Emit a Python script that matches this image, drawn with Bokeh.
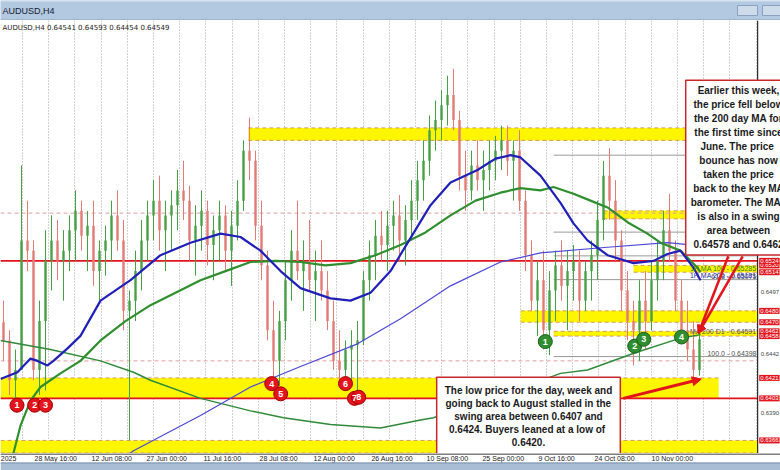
import numpy as np
from bokeh.plotting import figure
from bokeh.layouts import column
from bokeh.models import FixedTicker, Label, Arrow, NormalHead, ColumnDataSource, Span, Grid
from bokeh.embed import file_html
from bokeh.resources import INLINE
from bokeh.core.properties import value

# ---------------- data ----------------
symbol = "AUDUSD,H4"
ohlc_header = ["0.64541", "0.64593", "0.64454", "0.64549"]

date_labels = ["2025", "28 May 16:00", "12 Jun 08:00", "27 Jun 00:00", "11 Jul 16:00",
               "28 Jul 08:00", "12 Aug 00:00", "26 Aug 16:00", "10 Sep 08:00",
               "25 Sep 00:00", "9 Oct 16:00", "24 Oct 08:00", "10 Nov 00:00"]
date_bars = [-0.45, 5.17, 14.67, 23.83, 33.33, 42.67, 51.67, 61.33, 70.5,
             79.83, 89.17, 98.5, 108.0]

first_open = 0.6470
bar_high = [0.6489, 0.6463, 0.6446, 0.6608, 0.6577, 0.6542, 0.6489, 0.6551, 0.6564, 0.6560,
            0.6551, 0.6564, 0.6586, 0.6577, 0.6568, 0.6577, 0.6542, 0.6555, 0.6577, 0.6586,
            0.6560, 0.6498, 0.6533, 0.6560, 0.6577, 0.6595, 0.6599, 0.6577, 0.6586, 0.6604,
            0.6612, 0.6590, 0.6573, 0.6586, 0.6577, 0.6564, 0.6577, 0.6573, 0.6568, 0.6595,
            0.6630, 0.6650, 0.6621, 0.6577, 0.6533, 0.6489, 0.6480, 0.6524, 0.6551, 0.6577,
            0.6542, 0.6560, 0.6533, 0.6542, 0.6515, 0.6489, 0.6463, 0.6454, 0.6463, 0.6471,
            0.6515, 0.6542, 0.6560, 0.6568, 0.6568, 0.6577, 0.6582, 0.6573, 0.6595, 0.6612,
            0.6630, 0.6652, 0.6665, 0.6674, 0.6687, 0.6693, 0.6656, 0.6621, 0.6621, 0.6630,
            0.6621, 0.6630, 0.6634, 0.6643, 0.6643, 0.6630, 0.6639, 0.6586, 0.6542, 0.6524,
            0.6533, 0.6515, 0.6533, 0.6542, 0.6533, 0.6538, 0.6533, 0.6524, 0.6542, 0.6577,
            0.6612, 0.6623, 0.6595, 0.6551, 0.6515, 0.6489, 0.6507, 0.6515, 0.6524, 0.6542,
            0.6568, 0.6583, 0.6542, 0.6507, 0.6489, 0.6471, 0.6463]
bar_low = [0.6436, 0.6406, 0.6401, 0.6428, 0.6515, 0.6419, 0.6406, 0.6410, 0.6498, 0.6507,
           0.6489, 0.6515, 0.6524, 0.6533, 0.6515, 0.6502, 0.6489, 0.6511, 0.6524, 0.6533,
           0.6463, 0.6366, 0.6471, 0.6498, 0.6524, 0.6542, 0.6533, 0.6515, 0.6533, 0.6551,
           0.6560, 0.6524, 0.6511, 0.6533, 0.6520, 0.6507, 0.6524, 0.6515, 0.6502, 0.6542,
           0.6568, 0.6595, 0.6542, 0.6507, 0.6454, 0.6419, 0.6414, 0.6454, 0.6489, 0.6507,
           0.6480, 0.6498, 0.6471, 0.6489, 0.6463, 0.6428, 0.6414, 0.6410, 0.6414, 0.6410,
           0.6450, 0.6489, 0.6507, 0.6524, 0.6515, 0.6533, 0.6524, 0.6520, 0.6542, 0.6560,
           0.6577, 0.6599, 0.6621, 0.6630, 0.6643, 0.6639, 0.6586, 0.6568, 0.6577, 0.6586,
           0.6568, 0.6586, 0.6595, 0.6604, 0.6599, 0.6577, 0.6568, 0.6515, 0.6480, 0.6458,
           0.6446, 0.6441, 0.6471, 0.6489, 0.6463, 0.6489, 0.6471, 0.6480, 0.6489, 0.6507,
           0.6542, 0.6560, 0.6524, 0.6480, 0.6454, 0.6432, 0.6436, 0.6446, 0.6463, 0.6489,
           0.6507, 0.6524, 0.6480, 0.6454, 0.6436, 0.6420, 0.6423]
bar_close = [0.6454, 0.6419, 0.6428, 0.6542, 0.6533, 0.6428, 0.6471, 0.6524, 0.6542, 0.6524,
             0.6533, 0.6551, 0.6568, 0.6546, 0.6555, 0.6515, 0.6533, 0.6542, 0.6564, 0.6542,
             0.6480, 0.6489, 0.6515, 0.6542, 0.6564, 0.6577, 0.6551, 0.6564, 0.6573, 0.6586,
             0.6577, 0.6542, 0.6555, 0.6568, 0.6538, 0.6551, 0.6564, 0.6533, 0.6555, 0.6577,
             0.6621, 0.6612, 0.6555, 0.6520, 0.6463, 0.6436, 0.6471, 0.6507, 0.6533, 0.6515,
             0.6524, 0.6507, 0.6515, 0.6498, 0.6471, 0.6436, 0.6428, 0.6446, 0.6450, 0.6454,
             0.6507, 0.6529, 0.6546, 0.6538, 0.6555, 0.6564, 0.6542, 0.6560, 0.6577, 0.6595,
             0.6612, 0.6639, 0.6648, 0.6661, 0.6670, 0.6648, 0.6599, 0.6586, 0.6608, 0.6595,
             0.6604, 0.6612, 0.6621, 0.6630, 0.6612, 0.6621, 0.6577, 0.6529, 0.6489, 0.6507,
             0.6463, 0.6498, 0.6520, 0.6502, 0.6515, 0.6524, 0.6489, 0.6515, 0.6529, 0.6560,
             0.6599, 0.6577, 0.6542, 0.6498, 0.6471, 0.6463, 0.6489, 0.6471, 0.6507, 0.6524,
             0.6551, 0.6533, 0.6489, 0.6463, 0.6446, 0.6428, 0.6455]

# moving averages (bar index, price)
ma_h4_100_bar = [-0.5, 2.33, 4.5, 5.67, 7.33, 8.33, 10.67, 12.83, 16.17, 21.17, 26.17, 31.17,
                 36.17, 39.5, 42.83, 46.17, 49.5, 54.5, 57.83, 61.17, 64.5, 67.83, 71.17,
                 74.5, 79.0, 82.0, 84.5, 86.17, 89.5, 92.83, 95.0, 97.33, 100.67, 105.0,
                 108.33, 110.67, 112.83, 115.0, 116.17]
ma_h4_100_val = [0.6420, 0.6426, 0.6438, 0.6436, 0.6432, 0.6436, 0.6447, 0.6458, 0.6489,
                 0.6507, 0.6529, 0.6540, 0.6548, 0.6545, 0.6533, 0.6515, 0.6500, 0.6491,
                 0.6489, 0.6496, 0.6515, 0.6544, 0.6573, 0.6593, 0.6604, 0.6614, 0.6617,
                 0.6615, 0.6599, 0.6575, 0.6557, 0.6542, 0.6529, 0.6522, 0.6524, 0.6530,
                 0.6533, 0.6518, 0.6507]
ma_h4_200_bar = [0.33, 1.67, 2.83, 4.5, 6.17, 9.5, 12.83, 16.17, 20.33, 24.5, 28.67, 32.83,
                 37.0, 41.17, 45.33, 49.5, 53.67, 57.83, 62.0, 66.17, 70.33, 74.5, 78.67,
                 82.83, 86.17, 89.5, 91.67, 95.0, 97.83, 100.67, 104.0, 107.33, 109.5,
                 112.83, 115.67, 116.17]
ma_h4_200_val = [0.6331, 0.6355, 0.6379, 0.6401, 0.6413, 0.6425, 0.6436, 0.6454, 0.6471,
                 0.6485, 0.6496, 0.6507, 0.6515, 0.6523, 0.6524, 0.6523, 0.6520, 0.6522,
                 0.6529, 0.6538, 0.6549, 0.6564, 0.6577, 0.6584, 0.6588, 0.6586, 0.6589,
                 0.6583, 0.6577, 0.6571, 0.6558, 0.6548, 0.6540, 0.6533, 0.6518, 0.6514]
ma_d1_200_bar = [-0.5, 7.83, 16.17, 21.67, 24.5, 32.83, 41.17, 46.67, 54.5, 62.83, 69.5,
                 71.67, 79.5, 86.17, 92.83, 97.33, 105.17, 112.83, 116.17]
ma_d1_200_val = [0.6454, 0.6446, 0.6436, 0.6426, 0.6419, 0.6403, 0.6392, 0.6386, 0.6380,
                 0.6377, 0.6384, 0.6386, 0.6401, 0.6412, 0.6425, 0.6428, 0.6443, 0.6456,
                 0.64591]
ma_d1_100_bar = [19.5, 21.67, 32.83, 41.17, 49.5, 59.0, 66.17, 74.5, 82.83, 89.5, 100.67,
                 110.67, 114.5, 116.17]
ma_d1_100_val = [0.6348, 0.6357, 0.6388, 0.6413, 0.6431, 0.6451, 0.6473, 0.6502, 0.6523,
                 0.6531, 0.6536, 0.6540, 0.6538, 0.6537]

# swing areas (yellow) and levels
band_start = [40.8, 100.0, 105.0, 86.2, 91.7, -0.5, -0.5]
band_end = [125.7, 125.7, 125.7, 125.7, 125.7, 119.2, 125.7]
band_top = [0.6641, 0.6568, 0.6520, 0.6480, 0.6462, 0.6421, 0.6366]
band_bottom = [0.6630, 0.6561, 0.6514, 0.6470, 0.64578, 0.6403, 0.6355]
red_levels = [0.6524, 0.6403]
dashed_levels = [0.6566, 0.6436]
fib_names = ["0.0", "38.2", "50.0", "61.8", "100.0"]
fib_levels = [0.66170, 0.65493, 0.65284, 0.65075, 0.64398]
fib_start = 91.7
axis_price_labels = [0.6497, 0.6442, 0.6390]

red_mark_bar = [2.25, 5.2, 7.0, 44.7, 46.2, 57.0, 58.5, 59.2]
red_mark_price = [0.6397, 0.6397, 0.6397, 0.6416, 0.6407, 0.6416, 0.6403, 0.6404]
red_mark_text = ["1", "2", "3", "4", "5", "6", "7", "8"]
green_mark_bar = [90.3, 105.2, 106.7, 113.0]
green_mark_price = [0.6453, 0.6449, 0.6455, 0.6457]
green_mark_text = ["1", "2", "3", "4"]

note_top = ("Earlier this week,\nthe price fell below\nthe 200 day MA for\nthe first time since\n"
            "June.  The price\nbounce has now\ntaken the price\nback to the key MA\n"
            "barometer.   The MA\nis also in a swing\narea between\n0.64578 and 0.6462")
note_bottom = ("The low price for the day, week and\ngoing back to August stalled in the\n"
               "swing area between 0.6407 and\n0.6424.  Buyers leaned at a low of\n0.6420.")

# ---------------- figure ----------------
FONT = "Liberation Sans"
W = 780
RED = "#e3141b"
X_END = 125.7          # right edge of the price area (price scale strip follows)
X_MAX = 129.5

top = figure(width=W, height=20, output_backend="svg", toolbar_location=None,
             x_range=(0, W), y_range=(0, 20), x_axis_type=None, y_axis_type=None,
             min_border=0, border_fill_color="#b3c8e1", background_fill_color="#b3c8e1",
             outline_line_color=None)
top.segment(x0=[0], y0=[19.5], x1=[W], y1=[19.5], line_color="#d6e2f0", line_width=1)
top.segment(x0=[0], y0=[0.5], x1=[W], y1=[0.5], line_color="#8ea5c2", line_width=1)
top.text(x=[2], y=[10], text=[symbol], text_font=value(FONT), text_font_size="9px",
         text_baseline="middle", text_color="#15202e")
top.quad(left=[737, 762], right=[757, 784], top=[15, 15], bottom=[5, 5],
         fill_color="#cddbeb", line_color="#8aa1bf")

p = figure(width=W, height=433, output_backend="svg", toolbar_location=None,
           x_range=(-0.5, X_MAX), y_range=(0.63545, 0.67355),
           x_axis_type=None, y_axis_type=None,
           min_border_left=0, min_border_right=0, min_border_top=0, min_border_bottom=0,
           background_fill_color="white", outline_line_color=None)
p.add_layout(Grid(dimension=0, ticker=FixedTicker(ticks=list(np.arange(3.17, X_END, 4.367))),
                  grid_line_color="#a6a6a6", grid_line_dash="1 2"))

# yellow swing areas
p.quad(left=band_start, right=band_end, top=band_top, bottom=band_bottom,
       fill_color="#fdf600", line_color=None)
p.segment(x0=band_start * 2, y0=band_top + band_bottom, x1=band_end * 2,
          y1=band_top + band_bottom, line_color="#d79a62", line_width=1, line_dash="4 3")
p.segment(x0=[-0.5] * len(dashed_levels), y0=dashed_levels, x1=[X_END] * len(dashed_levels),
          y1=dashed_levels, line_color="#e0a0a0", line_width=1, line_dash="4 3")
p.segment(x0=[-0.5] * len(red_levels), y0=red_levels, x1=[X_END] * len(red_levels),
          y1=red_levels, line_color=RED, line_width=1.6)
p.segment(x0=[fib_start] * len(fib_levels), y0=fib_levels, x1=[X_END] * len(fib_levels),
          y1=fib_levels, line_color="#9a9a9a", line_width=1)
p.text(x=[X_END - 0.2] * len(fib_levels), y=fib_levels,
       text=[f"{n} - {v:.5f}" for n, v in zip(fib_names, fib_levels)],
       text_font=value(FONT), text_font_size="7px", text_color="#505050",
       text_align="right", text_baseline="bottom")

# candles
idx = np.arange(len(bar_close))
closes = np.array(bar_close)
opens = np.array([first_open] + bar_close[:-1])
up = closes >= opens
cols = np.where(up, "#46a046", "#e27a76")
src = ColumnDataSource(dict(x=idx, hi=bar_high, lo=bar_low, top=np.maximum(opens, closes),
                            bot=np.minimum(opens, closes), c=cols))
p.segment(x0="x", y0="hi", x1="x", y1="lo", line_color="c", line_width=1, source=src)
p.vbar(x="x", width=0.4, top="top", bottom="bot", fill_color="c", line_color=None, source=src)

# moving averages
p.line(ma_d1_200_bar, ma_d1_200_val, line_color="#2f8a3a", line_width=1.5)
p.line(ma_d1_100_bar, ma_d1_100_val, line_color="#4b48d8", line_width=1.2)
p.line(ma_h4_200_bar, ma_h4_200_val, line_color="#2f8f2f", line_width=2.2)
p.line(ma_h4_100_bar, ma_h4_100_val, line_color="#2020b8", line_width=2.2)

p.text(x=[X_END - 0.2], y=[ma_d1_200_val[-1]], text=[f"MA 200 D1 - {ma_d1_200_val[-1]:.5f}"],
       text_font=value(FONT), text_font_size="7px", text_color="#505050",
       text_align="right", text_baseline="bottom")
p.text(x=[X_END - 0.2, X_END - 0.2], y=[band_top[2], band_bottom[2]],
       text=["1H MA 100 - 0.65285", "1H MA 200 - 0.65181"],
       text_font=value(FONT), text_font_size="7px", text_color=["#2f7f2f", "#2a2ab0"],
       text_align="right", text_baseline="top")

# numbered touch markers
p.scatter(red_mark_bar, red_mark_price, size=14, fill_color=RED, line_color="#a00000")
p.text(red_mark_bar, red_mark_price, text=red_mark_text, text_font=value(FONT),
       text_font_style="bold", text_font_size="9px", text_color="white",
       text_align="center", text_baseline="middle")
p.scatter(green_mark_bar, green_mark_price, size=14, fill_color="#2f8f2f", line_color="#1d601d")
p.text(green_mark_bar, green_mark_price, text=green_mark_text, text_font=value(FONT),
       text_font_style="bold", text_font_size="9px", text_color="white",
       text_align="center", text_baseline="middle")

# price scale strip
p.add_layout(Span(location=X_END, dimension="height", line_color="#000000", line_width=1))
for lv in band_top[:6] + band_bottom[:6] + [red_levels[0], band_top[6]]:
    p.add_layout(Label(x=X_END, y=lv, x_offset=1.5, text=f"{lv:.4f}", text_font=FONT,
                       text_font_size="6px", text_color="white", text_baseline="middle",
                       background_fill_color=RED, padding=1))
for lv in axis_price_labels:
    p.add_layout(Label(x=X_END, y=lv, x_offset=3, text=f"{lv:.4f}", text_font=FONT,
                       text_font_size="6px", text_color="#444444", text_baseline="middle"))

# header line
p.add_layout(Label(x=-0.5, y=0.67355, x_offset=2, y_offset=-3,
                   text=symbol + "  " + " ".join(ohlc_header), text_font="DejaVu Sans",
                   text_font_size="7px", text_color="#222222", text_baseline="top"))

# arrows
recent = len(bar_low) - 10
low_i = recent + int(np.argmin(bar_low[recent:]))
p.add_layout(Arrow(end=NormalHead(size=9, fill_color=RED, line_color=RED),
                   x_start=103.3, y_start=0.6403, x_end=low_i + 1.3, y_end=bar_low[low_i],
                   line_color=RED, line_width=3))
for xs in [120.8, 123.2]:
    p.add_layout(Arrow(end=NormalHead(size=8, fill_color=RED, line_color=RED),
                       x_start=xs, y_start=0.6528, x_end=115.8, y_end=ma_d1_200_val[-1] + 0.0001,
                       line_color=RED, line_width=2.5))

# note boxes
p.add_layout(Label(x=122.5, y=0.6606, text=note_top, text_font=FONT, text_font_style="bold",
                   text_font_size="10px", text_color="#1a1a1a", text_align="center",
                   text_baseline="middle", text_line_height=1.27,
                   background_fill_color="white", border_line_color="#c8282c",
                   border_line_width=1.5, padding=5))
p.add_layout(Label(x=87.5, y=0.6387, text=note_bottom, text_font=FONT, text_font_style="bold",
                   text_font_size="10px", text_color="#1a1a1a", text_align="center",
                   text_baseline="middle", text_line_height=1.17,
                   background_fill_color="white", border_line_color="#c8282c",
                   border_line_width=1.5, padding=8))

# time scale strip + window frame bottom
bottom = figure(width=W, height=17, output_backend="svg", toolbar_location=None,
                x_range=p.x_range, y_range=(0, 17), x_axis_type=None, y_axis_type=None,
                min_border=0, border_fill_color="white", background_fill_color="white",
                outline_line_color=None)
bottom.segment(x0=[-0.5], y0=[16.5], x1=[X_MAX], y1=[16.5], line_color="#000000", line_width=1)
bottom.text(x=date_bars, y=[12] * len(date_bars), text=date_labels, text_font=value(FONT),
            text_font_size="7px", text_color="#222222", text_align="left",
            text_baseline="middle")
bottom.quad(left=[-0.5], right=[X_MAX], top=[8], bottom=[0], fill_color="#a9bdd5",
            line_color=None)
bottom.segment(x0=[-0.5], y0=[7.5], x1=[X_MAX], y1=[7.5], line_color="#7d93b0", line_width=1)

layout = column(top, p, bottom, spacing=0)
open("out.html", "w").write(file_html(layout, INLINE))
